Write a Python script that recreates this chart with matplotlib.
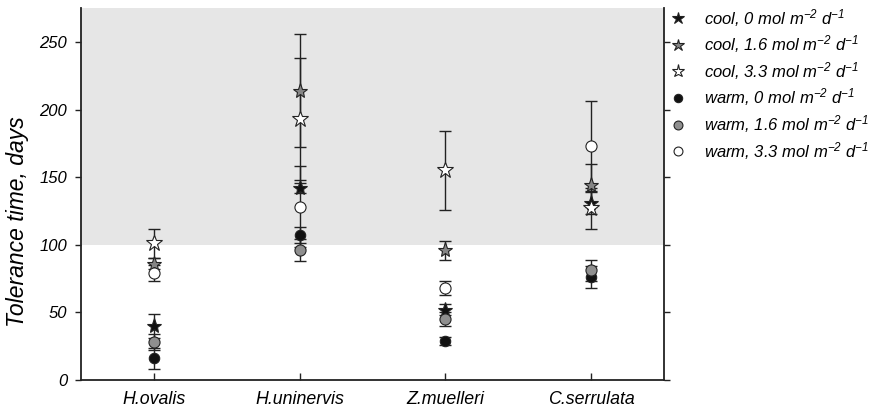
import matplotlib
matplotlib.use("Agg")
import matplotlib.pyplot as plt

plt.rcParams['font.family'] = ['Liberation Sans', 'DejaVu Sans']
plt.rcParams['mathtext.fontset'] = 'custom'
plt.rcParams['mathtext.rm'] = 'Liberation Sans:italic'
plt.rcParams['mathtext.it'] = 'Liberation Sans:italic'
plt.rcParams['mathtext.default'] = 'it'

species = ["H.ovalis", "H.uninervis", "Z.muelleri", "C.serrulata"]

# mean tolerance time (days) and error per treatment
cool_0 = [40, 142, 52, 131]
cool_0_err = [9, 4, 4, 8]
cool_16 = [86, 214, 96, 144]
cool_16_err = [4, 42, 7, 16]
cool_33 = [101, 193, 155, 127]
cool_33_err = [11, 45, 29, 15]
warm_0 = [16, 107, 29, 76]
warm_0_err = [8, 6, 3, 8]
warm_16 = [28, 96, 45, 81]
warm_16_err = [6, 8, 5, 8]
warm_33 = [79, 128, 68, 173]
warm_33_err = [6, 30, 5, 33]

series_labels = [
    r"cool, 0 mol m$^{-2}$ d$^{-1}$",
    r"cool, 1.6 mol m$^{-2}$ d$^{-1}$",
    r"cool, 3.3 mol m$^{-2}$ d$^{-1}$",
    r"warm, 0 mol m$^{-2}$ d$^{-1}$",
    r"warm, 1.6 mol m$^{-2}$ d$^{-1}$",
    r"warm, 3.3 mol m$^{-2}$ d$^{-1}$",
]
yticks = [0, 50, 100, 150, 200, 250]
threshold = 100

fig = plt.figure(figsize=(8.78, 4.09), dpi=100)
ax = fig.add_axes([0.0923, 0.071, 0.664, 0.909])

x = list(range(1, len(species) + 1))
styles = [
    (cool_0, cool_0_err, '*', '#111111', 11),
    (cool_16, cool_16_err, '*', '#858585', 11),
    (cool_33, cool_33_err, '*', '#ffffff', 12),
    (warm_0, warm_0_err, 'o', '#111111', 7.5),
    (warm_16, warm_16_err, 'o', '#8f8f8f', 8),
    (warm_33, warm_33_err, 'o', '#ffffff', 8),
]

ax.axhspan(threshold, 280, color='#e6e6e6', zorder=0, lw=0)

handles = []
for (vals, errs, mk, fc, ms), lab in zip(styles, series_labels):
    ax.errorbar(x, vals, yerr=errs, fmt='none', ecolor='#222222',
                elinewidth=1.0, capsize=4.5, capthick=1.0, zorder=2)
    h, = ax.plot(x, vals, linestyle='none', marker=mk, markersize=ms,
                 markerfacecolor=fc, markeredgecolor='#222222',
                 markeredgewidth=0.8, zorder=3, label=lab)
    handles.append(h)

ax.set_xlim(0.5, 4.5)
ax.set_ylim(0, 275)
ax.set_xticks(x)
ax.set_xticklabels(species, fontsize=12.8, style='italic')
ax.set_yticks(yticks)
ax.set_yticklabels([str(v) for v in yticks], fontsize=12, style='italic')
ax.tick_params(axis='y', direction='out', length=4, width=1, color='#222222', pad=6)
ax.tick_params(axis='x', direction='in', length=5, width=1, color='#222222', pad=8)
ax.tick_params(axis='y', which='both', right=True, labelright=False)

for side in ['left', 'bottom', 'right']:
    ax.spines[side].set_linewidth(1.3)
    ax.spines[side].set_color('#222222')
ax.spines['top'].set_visible(False)

ax.set_ylabel("Tolerance time, days", fontsize=16.5, style='italic')
ax.yaxis.set_label_coords(-0.09, 0.425)

leg = fig.legend(handles=handles, loc='upper left', bbox_to_anchor=(0.746, 1.02),
                 frameon=False, prop={'style': 'italic', 'size': 12},
                 markerscale=0.8, handlelength=1.0, handletextpad=1.05,
                 labelspacing=0.28)

fig.savefig("out.png", dpi=100)
